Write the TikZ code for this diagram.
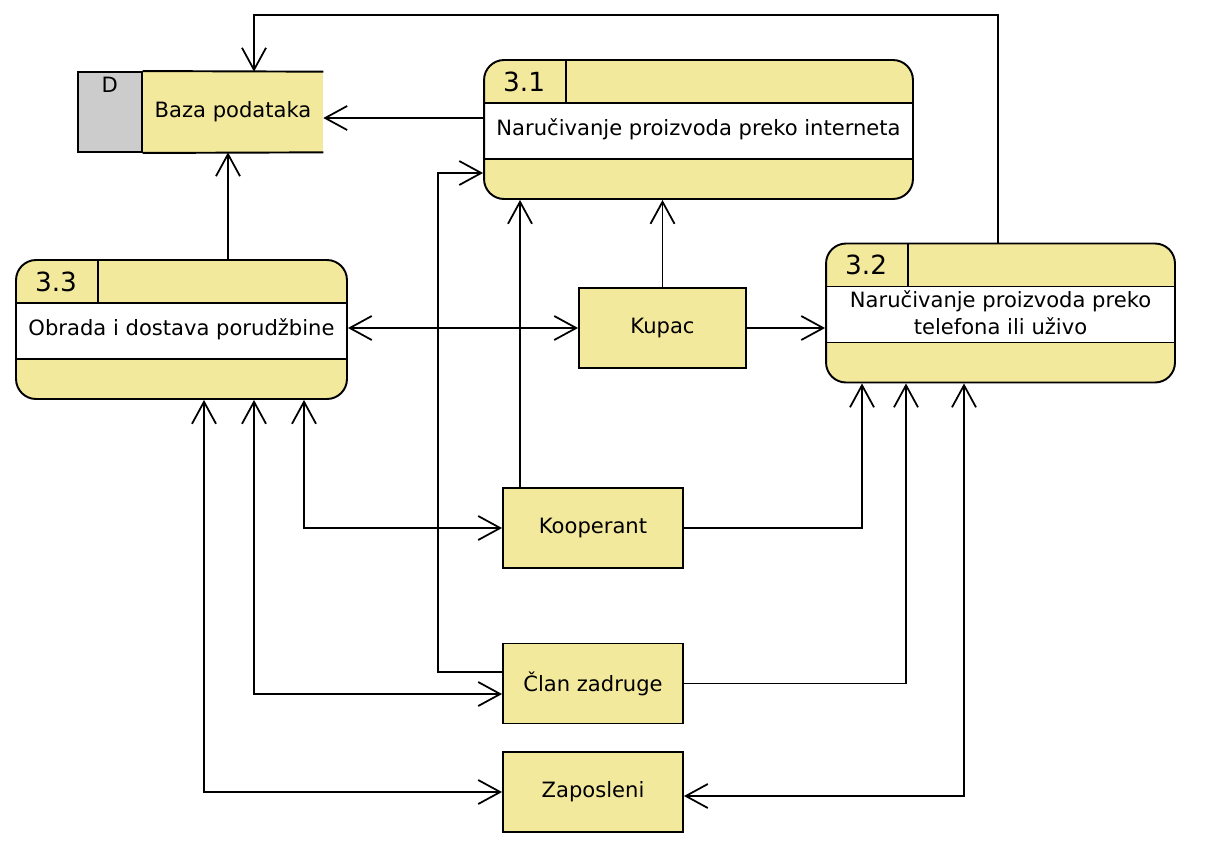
\documentclass[tikz,border=0pt]{standalone}
\usepackage{fontspec}
\setmainfont{DejaVu Sans}
\usetikzlibrary{arrows.meta}
\definecolor{procfill}{RGB}{243,233,156}
\definecolor{storegray}{RGB}{204,204,204}
\tikzset{
  proc/.style={draw, fill=procfill, rounded corners=0.4cm, line width=1.1pt,
    minimum height=2.78cm, inner sep=0pt, align=center,
    font=\fontsize{12}{15.3}\selectfont,
    path picture={
      \fill[white, sharp corners] ([yshift=-0.86cm]path picture bounding box.north west)
        rectangle ([yshift=-1.98cm]path picture bounding box.north east);
      \draw[line width=1.1pt, sharp corners]
        ([yshift=-0.86cm]path picture bounding box.north west) -- ([yshift=-0.86cm]path picture bounding box.north east)
        ([yshift=-1.98cm]path picture bounding box.north west) -- ([yshift=-1.98cm]path picture bounding box.north east)
        ([xshift=1.64cm]path picture bounding box.north west) -- ([xshift=1.64cm,yshift=-0.86cm]path picture bounding box.north west);
    }},
  procid/.style={font=\fontsize{15}{17}\selectfont, inner sep=0pt},
  ent/.style={draw, fill=procfill, line width=1.1pt, minimum width=3.6cm, minimum height=1.6cm,
    font=\fontsize{12}{15}\selectfont},
  store/.style={fill=procfill, minimum width=3.6cm, minimum height=1.6cm,
    font=\fontsize{12}{15}\selectfont},
  storeid/.style={draw, fill=storegray, line width=1.1pt, minimum width=1.28cm, minimum height=1.6cm},
  flow/.style={line width=1pt, -{Straight Barb[length=0.44cm,width=0.48cm]}},
  flow2/.style={line width=1pt, {Straight Barb[length=0.44cm,width=0.48cm]}-{Straight Barb[length=0.44cm,width=0.48cm]}},
}
\begin{document}
\begin{tikzpicture}[x=0.02cm, y=-0.02cm]
  \useasboundingbox (0,0) rectangle (1206,849);

  % procesi
  \node[proc, minimum width=8.58cm] (p31) at (698.5,129.5) {Naručivanje proizvoda preko interneta};
  \node[proc, minimum width=6.98cm] (p32) at (1000.5,313) {Naručivanje proizvoda preko\\telefona ili uživo};
  \node[proc, minimum width=6.62cm] (p33) at (181.5,329.5) {Obrada i dostava porudžbine};
  \node[procid] (id31) at ([xshift=0.82cm,yshift=-0.45cm]p31.north west) {3.1};
  \node[procid] (id32) at ([xshift=0.82cm,yshift=-0.45cm]p32.north west) {3.2};
  \node[procid] (id33) at ([xshift=0.82cm,yshift=-0.45cm]p33.north west) {3.3};

  % skladiste podataka
  \node[store] (db) at (233,112) {Baza podataka};
  \node[storeid, anchor=east] (dbid) at (db.west) {};
  \node[font=\fontsize{12}{15}\selectfont] (dbD) at ([yshift=-0.28cm]dbid.north) {D};
  \draw[line width=1.1pt] (dbid.north east) -- (db.north east);
  \draw[line width=1.1pt] (dbid.south east) -- (db.south east);

  % eksterni entiteti
  \node[ent, minimum width=3.34cm] (kupac) at (662.5,328) {Kupac};
  \node[ent] (koop) at (593,528) {Kooperant};
  \node[ent] (clan) at (593,683.5) {Član zadruge};
  \node[ent] (zap) at (593,792) {Zaposleni};

  % tokovi
  \draw[flow] (p31.west |- 0,118) -- (db.east |- 0,118);
  \draw[flow] (p33.north -| 228,0) -- (db.south -| 228,0);
  \draw[flow] (p32.north -| 998,0) -- (998,15) -| (db.north -| 254,0);
  \draw[flow2] (p33.east |- kupac.west) -- (kupac.west);
  \draw[flow] (kupac.north) -- (p31.south -| kupac.north);
  \draw[flow] (kupac.east) -- (p32.west |- kupac.east);
  \draw[flow] (koop.north -| 520,0) -- (p31.south -| 520,0);
  \draw[flow] (koop.east) -| (p32.south -| 862,0);
  \draw[flow2] (p33.south -| 304,0) |- (koop.west);
  \draw[flow] (clan.west |- 0,672) -| (438,173) -- (p31.west |- 0,173);
  \draw[flow2] (p33.south -| 254,0) |- (clan.west |- 0,694);
  \draw[flow] (clan.east) -| (p32.south -| 906,0);
  \draw[flow2] (p33.south -| 204,0) |- (zap.west);
  \draw[flow2] (p32.south -| 964,0) |- (zap.east |- 0,796);
\end{tikzpicture}
\end{document}
